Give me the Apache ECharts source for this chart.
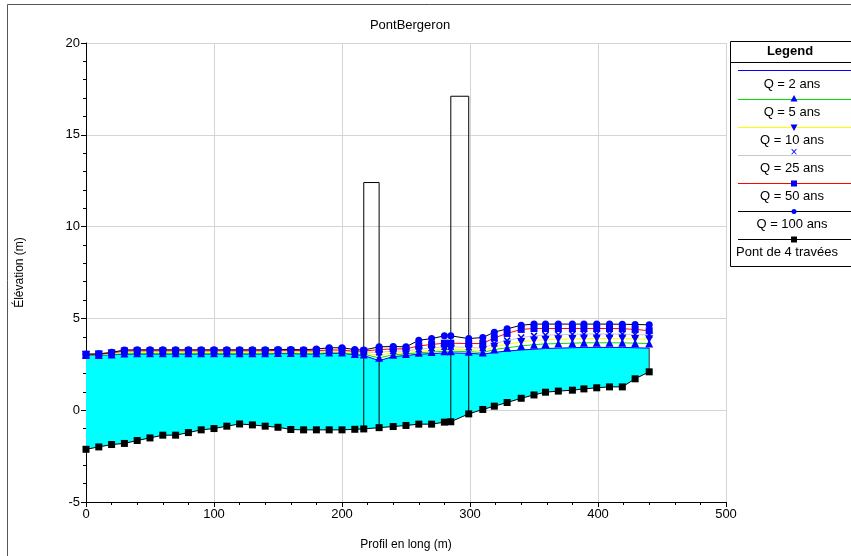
<!DOCTYPE html>
<html>
<head>
<meta charset="utf-8">
<script src="https://cdn.jsdelivr.net/npm/echarts@6/dist/echarts.min.js"></script>
<style>html,body{margin:0;padding:0;background:#fff}#c{width:851px;height:556px}</style>
</head>
<body>
<div id="c"></div>
<script>
// Stations along the profile (m)
const stations = [0,10,20,30,40,50,60,70,80,90,100,110,120,130,140,150,160,170,180,190,200,210,217,229,240,250,260,270,280,285,299,310,319,329,340,350,359,369,380,389,399,409,419,429,440];
// Bed elevation (Pont de 4 travées)
const ground = [-2.13,-2.0,-1.87,-1.81,-1.65,-1.51,-1.36,-1.36,-1.22,-1.07,-1.0,-0.87,-0.75,-0.8,-0.87,-0.93,-1.05,-1.07,-1.07,-1.07,-1.07,-1.04,-1.02,-0.95,-0.89,-0.83,-0.76,-0.76,-0.65,-0.63,-0.2,0.04,0.22,0.42,0.65,0.83,0.98,1.04,1.09,1.16,1.22,1.27,1.27,1.71,2.09];
// Water surfaces
const q2   = [3.00,3.00,3.02,3.05,3.06,3.06,3.06,3.06,3.06,3.06,3.06,3.06,3.06,3.06,3.06,3.08,3.08,3.06,3.06,3.10,3.10,3.02,2.98,2.70,2.92,2.98,3.05,3.08,3.12,3.12,3.10,3.05,3.15,3.22,3.28,3.32,3.36,3.38,3.40,3.42,3.42,3.42,3.42,3.40,3.38];
const q5   = [3.01,3.01,3.04,3.09,3.10,3.10,3.10,3.10,3.10,3.10,3.10,3.10,3.10,3.10,3.10,3.12,3.12,3.10,3.10,3.14,3.14,3.06,3.04,2.85,3.02,3.06,3.13,3.17,3.21,3.21,3.19,3.14,3.30,3.40,3.50,3.57,3.61,3.63,3.65,3.67,3.67,3.67,3.67,3.65,3.63];
const q10  = [3.02,3.03,3.07,3.13,3.14,3.14,3.14,3.14,3.14,3.14,3.14,3.14,3.14,3.14,3.14,3.16,3.16,3.14,3.14,3.18,3.18,3.10,3.10,3.00,3.12,3.14,3.21,3.26,3.32,3.32,3.30,3.25,3.45,3.58,3.72,3.80,3.84,3.86,3.88,3.90,3.90,3.90,3.90,3.88,3.86];
const q25  = [3.03,3.04,3.10,3.18,3.19,3.19,3.19,3.19,3.19,3.19,3.19,3.19,3.19,3.19,3.19,3.21,3.21,3.19,3.19,3.23,3.23,3.15,3.16,3.15,3.22,3.23,3.32,3.38,3.45,3.45,3.42,3.38,3.63,3.79,3.96,4.05,4.09,4.11,4.13,4.15,4.15,4.15,4.15,4.12,4.10];
const q50  = [3.04,3.05,3.12,3.23,3.24,3.24,3.24,3.24,3.24,3.24,3.24,3.24,3.24,3.24,3.24,3.26,3.26,3.24,3.24,3.28,3.28,3.20,3.22,3.30,3.34,3.34,3.50,3.58,3.65,3.65,3.63,3.63,3.94,4.18,4.40,4.45,4.45,4.45,4.45,4.45,4.45,4.45,4.44,4.40,4.33];
const q100 = [3.05,3.07,3.15,3.28,3.29,3.29,3.29,3.29,3.29,3.29,3.29,3.29,3.29,3.29,3.29,3.31,3.31,3.29,3.33,3.40,3.40,3.30,3.28,3.45,3.47,3.45,3.81,3.90,4.05,4.05,3.90,3.96,4.25,4.43,4.63,4.69,4.69,4.69,4.69,4.69,4.69,4.69,4.68,4.67,4.65];
// Piers (outline) and right bank edge
const pier1X = [217,217,229,229];
const pier1Y = [-1.02,12.4,12.4,-0.95];
const pier2X = [285,285,299,299];
const pier2Y = [-0.63,17.1,17.1,-0.2];
const bankX = [440,440];
const bankY = [2.09,3.38];
// Legend labels
const seriesNames = ['Q = 2 ans','Q = 5 ans','Q = 10 ans','Q = 25 ans','Q = 50 ans','Q = 100 ans','Pont de 4 travées'];

function pairs(xs, ys){ return xs.map((x,i)=>[x, ys[i]]); }

const FONT = '"Liberation Sans", Arial, sans-serif';
const BLUE = '#0000ff';
const xPath = 'path://M0,1.5 L1.5,0 L5,3.5 L8.5,0 L10,1.5 L6.5,5 L10,8.5 L8.5,10 L5,6.5 L1.5,10 L0,8.5 L3.5,5 Z';

const chart = echarts.init(document.getElementById('c'), null, {renderer:'canvas'});

function lineSeries(name, ys, lineColor, symbol, symColor, extra){
  return Object.assign({
    name: name, type:'line', data: pairs(stations, ys),
    symbol: symbol || 'none', symbolSize: 7, showSymbol: !!symbol,
    lineStyle:{color: lineColor, width:1},
    itemStyle:{color: symColor || lineColor},
    emphasis:{disabled:true}, animation:false, z:3
  }, extra||{});
}

// Legend graphics
const lg = [];
const LX = 730.5, LY = 41.5, LW = 130, LH = 225;
lg.push({type:'rect', shape:{x:LX, y:LY, width:LW, height:LH}, style:{fill:'#fff', stroke:'#000', lineWidth:1}});
lg.push({type:'text', x:790, y:51.5, style:{text:'Legend', font:'bold 13px '+FONT, fill:'#000', align:'center', verticalAlign:'middle'}});
lg.push({type:'line', shape:{x1:LX, y1:62.5, x2:LX+LW, y2:62.5}, style:{stroke:'#000', lineWidth:1}});
const legColors = [BLUE,'#00e000','#ffff00','#c8c8c8','#ff0000','#000000','#000000'];
const lineYs = [70,99,127,155,183,211,239];
const textYs = [84,112,140,168,196,224,252];
for (let i=0;i<7;i++){
  lg.push({type:'line', shape:{x1:738, y1:lineYs[i]+0.5, x2:851, y2:lineYs[i]+0.5}, style:{stroke:legColors[i], lineWidth:1}});
  lg.push({type:'text', x: i===6 ? 787 : 792, y:textYs[i], style:{text:seriesNames[i], font:'13px '+FONT, fill:'#000', align:'center', verticalAlign:'middle'}});
}
const mx = 794;
lg.push({type:'polygon', shape:{points:[[mx,lineYs[1]-4],[mx-3.5,lineYs[1]+2.5],[mx+3.5,lineYs[1]+2.5]]}, style:{fill:BLUE}});
lg.push({type:'polygon', shape:{points:[[mx,lineYs[2]+4],[mx-3.5,lineYs[2]-2.5],[mx+3.5,lineYs[2]-2.5]]}, style:{fill:BLUE}});
lg.push({type:'text', x:mx, y:lineYs[3]-2, style:{text:'×', font:'12px '+FONT, fill:BLUE, align:'center', verticalAlign:'middle'}});
lg.push({type:'rect', shape:{x:mx-3, y:lineYs[4]-2.5, width:6, height:6}, style:{fill:BLUE}});
lg.push({type:'circle', shape:{cx:mx, cy:lineYs[5]+0.5, r:2.5}, style:{fill:BLUE}});
lg.push({type:'rect', shape:{x:mx-3, y:lineYs[6]-2.5, width:6, height:6}, style:{fill:'#000'}});
// outer frame
lg.unshift({type:'rect', shape:{x:7.5, y:4.5, width:900, height:600}, style:{fill:'none', stroke:'#555', lineWidth:1}, z:-10});

const option = {
  animation:false,
  backgroundColor:'#fff',
  title:{text:'PontBergeron', left:405, top:14, textAlign:'center', textStyle:{fontFamily:FONT, fontSize:13, fontWeight:'normal', color:'#000'}},
  grid:{left:86, right:125, top:43, bottom:54, containLabel:false},
  xAxis:{type:'value', min:0, max:500, interval:100,
    name:'Profil en long (m)', nameLocation:'middle', nameGap:37,
    nameTextStyle:{fontFamily:FONT, fontSize:12, color:'#000'},
    axisLine:{show:true, onZero:false, lineStyle:{color:'#000'}},
    axisTick:{show:true, length:5, lineStyle:{color:'#000'}},
    minorTick:{show:true, splitNumber:5, length:3, lineStyle:{color:'#000'}},
    axisLabel:{fontFamily:FONT, fontSize:13, color:'#000', margin:6},
    splitLine:{show:true, lineStyle:{color:'#d4d4d4', width:1}}
  },
  yAxis:{type:'value', min:-5, max:20, interval:5,
    name:'Élévation (m)', nameLocation:'middle', nameGap:60,
    nameTextStyle:{fontFamily:FONT, fontSize:12, color:'#000'},
    axisLine:{show:true, onZero:false, lineStyle:{color:'#000'}},
    axisTick:{show:true, length:5, lineStyle:{color:'#000'}},
    minorTick:{show:true, splitNumber:5, length:3, lineStyle:{color:'#000'}},
    axisLabel:{fontFamily:FONT, fontSize:13, color:'#000', margin:6},
    splitLine:{show:true, lineStyle:{color:'#d4d4d4', width:1}}
  },
  graphic: lg,
  series:[
    {type:'custom', name:'fill', data:[[0,0]], z:1, silent:true, animation:false,
      renderItem:function(params, api){
        const pts = [];
        for (let i=0;i<stations.length;i++) pts.push(api.coord([stations[i], q2[i]]));
        for (let i=stations.length-1;i>=0;i--) pts.push(api.coord([stations[i], ground[i]]));
        return {type:'polygon', shape:{points:pts}, style:{fill:'#00ffff', stroke:null}};
      }},
    lineSeries('pier1', pier1Y, '#000', null, null, {data:pairs(pier1X,pier1Y), z:2}),
    lineSeries('pier2', pier2Y, '#000', null, null, {data:pairs(pier2X,pier2Y), z:2}),
    lineSeries('bank', bankY, '#333', null, null, {data:pairs(bankX,bankY), z:2}),
    lineSeries(seriesNames[0], q2, BLUE),
    lineSeries(seriesNames[1], q5, '#00e000', 'triangle', BLUE, {symbolSize:8}),
    lineSeries(seriesNames[2], q10, '#ffff00', 'triangle', BLUE, {symbolSize:8, symbolRotate:180}),
    lineSeries(seriesNames[3], q25, '#c8c8c8', xPath, BLUE, {symbolSize:7}),
    lineSeries(seriesNames[4], q50, '#ff0000', 'rect', BLUE, {symbolSize:7}),
    lineSeries(seriesNames[5], q100, '#000000', 'circle', BLUE, {symbolSize:7}),
    lineSeries(seriesNames[6], ground, '#000000', 'rect', '#000000', {symbolSize:7})
  ]
};
chart.setOption(option);
</script>
</body>
</html>
